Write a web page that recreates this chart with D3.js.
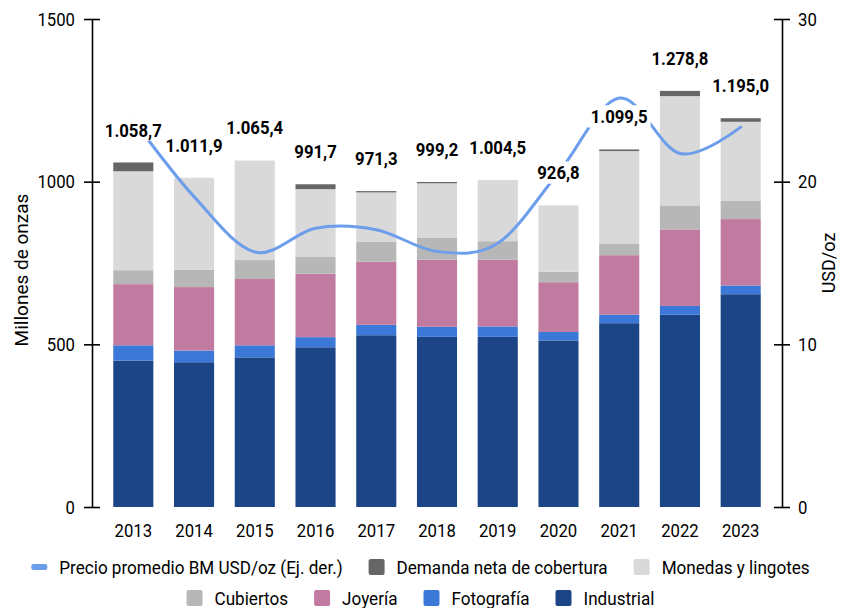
<!DOCTYPE html>
<html>
<head>
<meta charset="utf-8">
<script src="https://cdn.jsdelivr.net/npm/d3@7/dist/d3.min.js"></script>
<style>
body { margin: 0; background: #fff; }
text { font-family: Roboto, "Noto Sans", sans-serif; fill: #000; }
</style>
</head>
<body>
<div id="chart"></div>
<script>
// Demanda de plata, millones de onzas
const years = ["2013", "2014", "2015", "2016", "2017", "2018", "2019", "2020", "2021", "2022", "2023"];
const industrial = [450, 445, 460, 491, 528, 523, 523, 512, 565, 591, 654];
const fotografia = [47, 36, 37, 31, 32, 31, 32, 26, 26, 27, 27];
const joyeria = [188, 195, 204, 195, 194, 206, 205, 153, 183, 235, 204];
const cubiertos = [43, 53, 58, 53, 62, 67, 57, 32, 36, 74, 57];
const monedas = [304, 283, 306, 207, 151, 168, 188, 204, 284, 336, 242];
const cobertura = [27, 0, 0, 15, 4, 4, 0, 0, 5, 16, 11];
const totals = [1058.7, 1011.9, 1065.4, 991.7, 971.3, 999.2, 1004.5, 926.8, 1099.5, 1278.8, 1195.0];
// precio promedio USD/oz (eje derecho)
const precio = [23.79, 19.08, 15.68, 17.14, 17.05, 15.71, 16.21, 20.55, 25.14, 21.73, 23.35];
const leftTicks = [0, 500, 1000, 1500];
const rightTicks = [0, 10, 20, 30];

const W = 841, H = 608;
const SX = 0.88; // text looks horizontally squeezed in the original

const series = [
    { key: "industrial", name: "Industrial", values: industrial, color: "#1c4587" },
    { key: "fotografia", name: "Fotografía", values: fotografia, color: "#3c78d8" },
    { key: "joyeria", name: "Joyería", values: joyeria, color: "#c27ba0" },
    { key: "cubiertos", name: "Cubiertos", values: cubiertos, color: "#b7b7b7" },
    { key: "monedas", name: "Monedas y lingotes", values: monedas, color: "#d9d9d9" },
    { key: "cobertura", name: "Demanda neta de cobertura", values: cobertura, color: "#666666" }
];
const lineColor = "#6d9eeb";

const fmt = d3.formatLocale({ decimal: ",", thousands: ".", grouping: [3], currency: ["", ""] }).format(",.1f");

const svg = d3.select("#chart").append("svg")
    .attr("width", W)
    .attr("height", H);

// Scales
const x = d3.scaleBand()
    .domain(years)
    .range([92, 782])
    .paddingInner(0.34)
    .paddingOuter(0.35);
const y = d3.scaleLinear().domain([0, 1500]).range([507, 19]);
const y2 = d3.scaleLinear().domain([0, 30]).range([507, 19]);

// Stacked bars
const rows = years.map((yr, i) => {
    const r = { year: yr };
    series.forEach(s => r[s.key] = s.values[i]);
    return r;
});
const stacked = d3.stack().keys(series.map(s => s.key))(rows);

svg.append("g").attr("class", "bars")
    .selectAll("g")
    .data(stacked)
    .join("g")
    .attr("fill", (d, i) => series[i].color)
    .selectAll("rect")
    .data(d => d)
    .join("rect")
    .attr("x", d => x(d.data.year))
    .attr("width", x.bandwidth())
    .attr("y", d => y(d[1]))
    .attr("height", d => y(d[0]) - y(d[1]));

// Axes
function squeezeTicks(g, dx, anchor) {
    g.selectAll(".tick text")
        .attr("x", dx / SX)
        .attr("transform", `scale(${SX},1)`)
        .style("text-anchor", anchor);
}

const axL = svg.append("g")
    .attr("transform", "translate(92,0)")
    .call(d3.axisLeft(y).tickValues(leftTicks).tickFormat(d3.format("d"))
        .tickSizeInner(8).tickSizeOuter(0).tickPadding(9));
axL.selectAll(".tick line").attr("x1", 8);
squeezeTicks(axL, -17, "end");

const axR = svg.append("g")
    .attr("transform", "translate(782,0)")
    .call(d3.axisRight(y2).tickValues(rightTicks).tickFormat(d3.format("d"))
        .tickSizeInner(8).tickSizeOuter(0).tickPadding(8));
axR.selectAll(".tick line").attr("x1", -8);
squeezeTicks(axR, 16, "start");

svg.selectAll(".domain, .tick line").attr("stroke", "#000").attr("stroke-width", 1.6);
svg.selectAll(".tick text").attr("font-size", 19).attr("font-family", "Roboto").attr("fill", "#000");

// Year labels
svg.append("g").selectAll("text")
    .data(years)
    .join("text")
    .attr("transform", d => `translate(${x(d) + x.bandwidth() / 2},537) scale(${SX},1)`)
    .attr("text-anchor", "middle")
    .attr("font-size", 19)
    .text(d => d);

// Axis titles
svg.append("text")
    .attr("transform", "translate(28,270) rotate(-90)")
    .attr("text-anchor", "middle")
    .attr("font-size", 19)
    .text("Millones de onzas");
svg.append("text")
    .attr("transform", "translate(835,263) rotate(-90)")
    .attr("text-anchor", "middle")
    .attr("font-size", 18)
    .text("USD/oz");

// Price line
const line = d3.line()
    .x((d, i) => x(years[i]) + x.bandwidth() / 2)
    .y(d => y2(d))
    .curve(d3.curveCatmullRom.alpha(0));
svg.append("path")
    .datum(precio)
    .attr("fill", "none")
    .attr("stroke", lineColor)
    .attr("stroke-width", 3)
    .attr("stroke-linecap", "round")
    .attr("d", line);

// Total labels with white background
const lbl = svg.append("g").selectAll("g")
    .data(totals)
    .join("g")
    .attr("transform", (d, i) => `translate(${x(years[i]) + x.bandwidth() / 2},${y(d) - 26})`);
lbl.append("text")
    .attr("transform", `scale(${SX},1)`)
    .attr("text-anchor", "middle")
    .attr("font-size", 19)
    .attr("font-weight", "bold")
    .text(d => fmt(d));
lbl.each(function () {
    const b = d3.select(this).select("text").node().getBBox();
    d3.select(this).insert("rect", "text")
        .attr("x", b.x * SX - 3)
        .attr("y", b.y)
        .attr("width", b.width * SX + 6)
        .attr("height", b.height)
        .attr("fill", "#fff");
});

// Legend
const legendRows = [
    [{ name: "Precio promedio BM USD/oz (Ej. der.)", color: lineColor, line: true },
     series[5], series[4]],
    [series[3], series[2], series[1], series[0]]
];
const rowY = [567, 598];
const LSX = 0.9;
legendRows.forEach((items, r) => {
    const g = svg.append("g");
    let cx = 0;
    items.forEach(it => {
        const ig = g.append("g").attr("transform", `translate(${cx},0)`);
        if (it.line) {
            ig.append("rect").attr("x", 0).attr("y", -3).attr("width", 16).attr("height", 6)
                .attr("rx", 2).attr("fill", it.color);
        } else {
            ig.append("rect").attr("x", 0).attr("y", -8).attr("width", 16).attr("height", 16)
                .attr("rx", 2).attr("fill", it.color);
        }
        const t = ig.append("text")
            .attr("transform", `translate(28,7) scale(${LSX},1)`)
            .attr("font-size", 19)
            .text(it.name);
        cx += 28 + t.node().getComputedTextLength() * LSX + 26;
    });
    const total = cx - 26;
    g.attr("transform", `translate(${(W - total) / 2},${rowY[r]})`);
});
</script>
</body>
</html>
